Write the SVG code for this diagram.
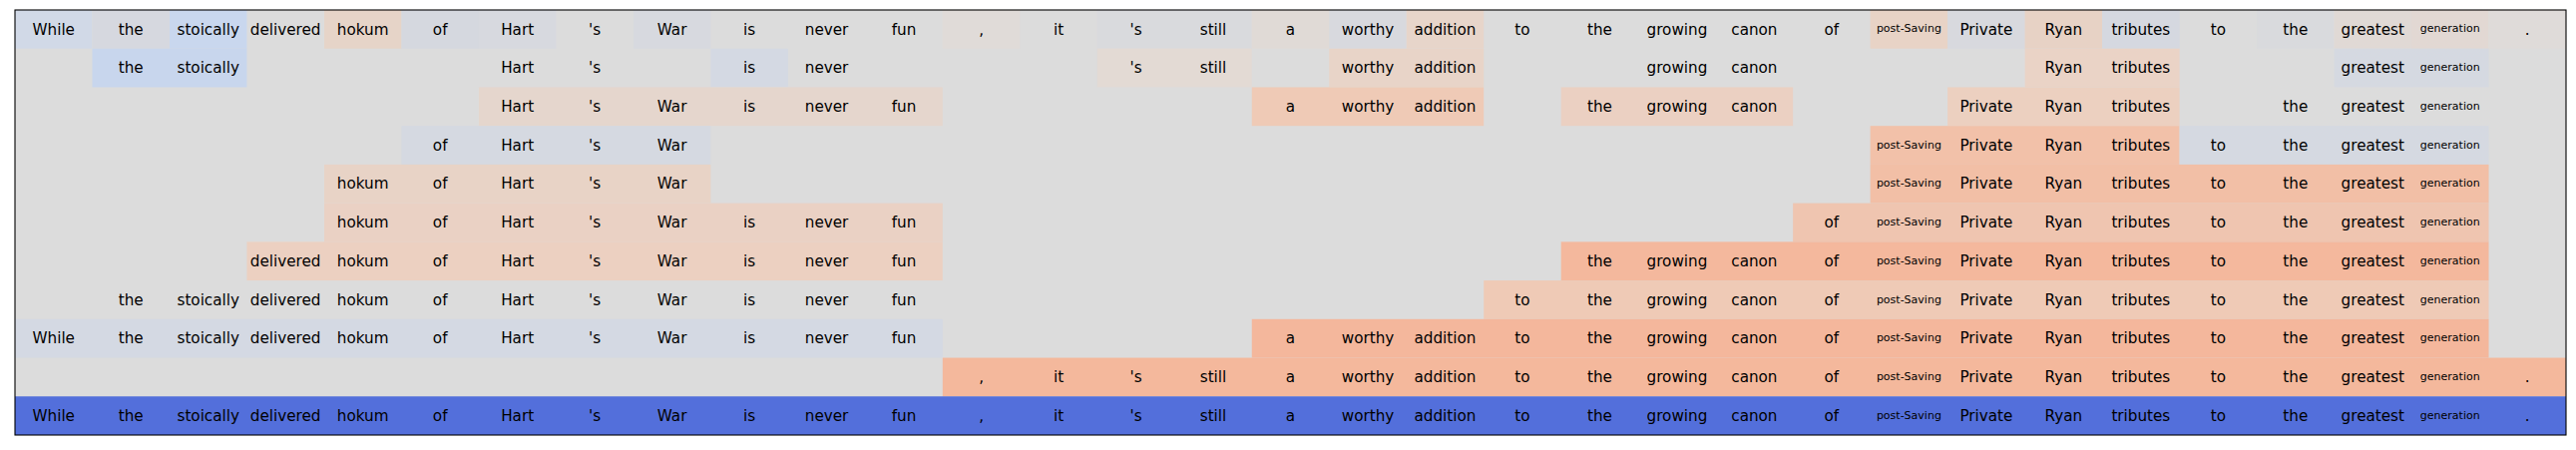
<svg xmlns="http://www.w3.org/2000/svg" width="2582" height="451" viewBox="0 0 2582 451">
<style>
text{font-family:"DejaVu Sans","Liberation Sans",sans-serif;font-size:15.2px;fill:#000;text-anchor:middle}
text.s{font-size:11px}
</style>
<rect x="0" y="0" width="2582" height="451" fill="#fff"/>
<g id="heatmap">
<rect x="15" y="10" width="2557" height="426" fill="#dcdcdc"/>
<!-- row 0 -->
<rect x="15" y="10" width="77.48" height="38.73" fill="#d1d9e7"/>
<rect x="92.48" y="10" width="77.49" height="38.73" fill="#d6d8df"/>
<rect x="169.97" y="10" width="77.48" height="38.73" fill="#c9d7ee"/>
<rect x="324.94" y="10" width="77.48" height="38.73" fill="#e6d4c8"/>
<rect x="402.42" y="10" width="77.49" height="38.73" fill="#d5d8df"/>
<rect x="479.91" y="10" width="77.48" height="38.73" fill="#d7d9df"/>
<rect x="634.88" y="10" width="77.48" height="38.73" fill="#d7d9df"/>
<rect x="944.82" y="10" width="77.48" height="38.73" fill="#e0dbd8"/>
<rect x="1099.79" y="10" width="154.97" height="38.73" fill="#d9dadd"/>
<rect x="1254.76" y="10" width="77.48" height="38.73" fill="#e0dad6"/>
<rect x="1332.24" y="10" width="77.49" height="38.73" fill="#d8d9de"/>
<rect x="1409.73" y="10" width="77.48" height="38.73" fill="#e7d5ca"/>
<rect x="1874.64" y="10" width="77.48" height="38.73" fill="#e8d3c6"/>
<rect x="1952.12" y="10" width="77.49" height="38.73" fill="#d8d9de"/>
<rect x="2029.61" y="10" width="77.48" height="38.73" fill="#e7d2c5"/>
<rect x="2107.09" y="10" width="77.49" height="38.73" fill="#d5d8e0"/>
<rect x="2262.06" y="10" width="77.49" height="38.73" fill="#d9dadd"/>
<rect x="2339.55" y="10" width="77.48" height="38.73" fill="#e0d9d5"/>
<rect x="2417.03" y="10" width="77.49" height="38.73" fill="#e2d8d3"/>
<rect x="2494.52" y="10" width="77.48" height="38.73" fill="#dfdbd9"/>
<!-- row 1 -->
<rect x="92.48" y="48.73" width="154.97" height="38.72" fill="#c8d6ed"/>
<rect x="712.36" y="48.73" width="77.49" height="38.72" fill="#d4d9e3"/>
<rect x="1099.79" y="48.73" width="154.97" height="38.72" fill="#e3dad4"/>
<rect x="1332.24" y="48.73" width="154.97" height="38.72" fill="#e8d4c8"/>
<rect x="2029.61" y="48.73" width="154.97" height="38.72" fill="#ead3c6"/>
<rect x="2339.55" y="48.73" width="154.97" height="38.72" fill="#d5d9e1"/>
<!-- row 2 -->
<rect x="479.91" y="87.45" width="464.91" height="38.73" fill="#e5d6cd"/>
<rect x="1254.76" y="87.45" width="232.45" height="38.73" fill="#efcab6"/>
<rect x="1564.70" y="87.45" width="232.45" height="38.73" fill="#ebd0c2"/>
<rect x="1952.12" y="87.45" width="232.46" height="38.73" fill="#ecd0c0"/>
<!-- row 3 -->
<rect x="402.42" y="126.18" width="309.94" height="38.73" fill="#d5d9e1"/>
<rect x="1874.64" y="126.18" width="309.94" height="38.73" fill="#f2c1a9"/>
<rect x="2184.58" y="126.18" width="309.94" height="38.73" fill="#d5d9e1"/>
<!-- row 4 -->
<rect x="324.94" y="164.91" width="387.42" height="38.73" fill="#e8d3c6"/>
<rect x="1874.64" y="164.91" width="619.88" height="38.73" fill="#f2bfa6"/>
<!-- row 5 -->
<rect x="324.94" y="203.64" width="619.88" height="38.72" fill="#ead1c4"/>
<rect x="1797.15" y="203.64" width="697.37" height="38.72" fill="#efc5b0"/>
<!-- row 6 -->
<rect x="247.45" y="242.36" width="697.37" height="38.73" fill="#ecd0c1"/>
<rect x="1564.70" y="242.36" width="929.82" height="38.73" fill="#f4b89d"/>
<!-- row 7 -->
<rect x="1487.21" y="281.09" width="1007.31" height="38.73" fill="#efcab6"/>
<!-- row 8 -->
<rect x="15" y="319.82" width="929.82" height="38.73" fill="#d4d9e3"/>
<rect x="1254.76" y="319.82" width="1239.76" height="38.73" fill="#f4b79c"/>
<!-- row 9 -->
<rect x="944.82" y="358.55" width="1627.18" height="38.72" fill="#f4b89c"/>
<!-- row 10 -->
<rect x="15" y="397.27" width="2557" height="38.73" fill="#536fdb"/>
</g>
<g id="labels">
<!-- row 0 -->
<text x="53.74" y="34.5">While</text><text x="131.23" y="34.5">the</text><text x="208.71" y="34.5">stoically</text><text x="286.20" y="34.5">delivered</text><text x="363.68" y="34.5">hokum</text><text x="441.17" y="34.5">of</text><text x="518.65" y="34.5">Hart</text><text x="596.14" y="34.5">'s</text><text x="673.62" y="34.5">War</text><text x="751.11" y="34.5">is</text><text x="828.59" y="34.5">never</text><text x="906.08" y="34.5">fun</text><text x="983.56" y="34.5">,</text><text x="1061.05" y="34.5">it</text><text x="1138.53" y="34.5">'s</text><text x="1216.02" y="34.5">still</text><text x="1293.50" y="34.5">a</text><text x="1370.99" y="34.5">worthy</text><text x="1448.47" y="34.5">addition</text><text x="1525.96" y="34.5">to</text><text x="1603.44" y="34.5">the</text><text x="1680.93" y="34.5">growing</text><text x="1758.41" y="34.5">canon</text><text x="1835.90" y="34.5">of</text><text class="s" x="1913.38" y="32.4">post-Saving</text><text x="1990.87" y="34.5">Private</text><text x="2068.35" y="34.5">Ryan</text><text x="2145.84" y="34.5">tributes</text><text x="2223.32" y="34.5">to</text><text x="2300.81" y="34.5">the</text><text x="2378.29" y="34.5">greatest</text><text class="s" x="2455.78" y="32.4">generation</text><text x="2533.26" y="34.5">.</text>
<!-- row 1 -->
<text x="131.23" y="73.2">the</text><text x="208.71" y="73.2">stoically</text><text x="518.65" y="73.2">Hart</text><text x="596.14" y="73.2">'s</text><text x="751.11" y="73.2">is</text><text x="828.59" y="73.2">never</text><text x="1138.53" y="73.2">'s</text><text x="1216.02" y="73.2">still</text><text x="1370.99" y="73.2">worthy</text><text x="1448.47" y="73.2">addition</text><text x="1680.93" y="73.2">growing</text><text x="1758.41" y="73.2">canon</text><text x="2068.35" y="73.2">Ryan</text><text x="2145.84" y="73.2">tributes</text><text x="2378.29" y="73.2">greatest</text><text class="s" x="2455.78" y="71.1">generation</text>
<!-- row 2 -->
<text x="518.65" y="111.9">Hart</text><text x="596.14" y="111.9">'s</text><text x="673.62" y="111.9">War</text><text x="751.11" y="111.9">is</text><text x="828.59" y="111.9">never</text><text x="906.08" y="111.9">fun</text><text x="1293.50" y="111.9">a</text><text x="1370.99" y="111.9">worthy</text><text x="1448.47" y="111.9">addition</text><text x="1603.44" y="111.9">the</text><text x="1680.93" y="111.9">growing</text><text x="1758.41" y="111.9">canon</text><text x="1990.87" y="111.9">Private</text><text x="2068.35" y="111.9">Ryan</text><text x="2145.84" y="111.9">tributes</text><text x="2300.81" y="111.9">the</text><text x="2378.29" y="111.9">greatest</text><text class="s" x="2455.78" y="109.8">generation</text>
<!-- row 3 -->
<text x="441.17" y="150.7">of</text><text x="518.65" y="150.7">Hart</text><text x="596.14" y="150.7">'s</text><text x="673.62" y="150.7">War</text><text class="s" x="1913.38" y="148.6">post-Saving</text><text x="1990.87" y="150.7">Private</text><text x="2068.35" y="150.7">Ryan</text><text x="2145.84" y="150.7">tributes</text><text x="2223.32" y="150.7">to</text><text x="2300.81" y="150.7">the</text><text x="2378.29" y="150.7">greatest</text><text class="s" x="2455.78" y="148.6">generation</text>
<!-- row 4 -->
<text x="363.68" y="189.4">hokum</text><text x="441.17" y="189.4">of</text><text x="518.65" y="189.4">Hart</text><text x="596.14" y="189.4">'s</text><text x="673.62" y="189.4">War</text><text class="s" x="1913.38" y="187.3">post-Saving</text><text x="1990.87" y="189.4">Private</text><text x="2068.35" y="189.4">Ryan</text><text x="2145.84" y="189.4">tributes</text><text x="2223.32" y="189.4">to</text><text x="2300.81" y="189.4">the</text><text x="2378.29" y="189.4">greatest</text><text class="s" x="2455.78" y="187.3">generation</text>
<!-- row 5 -->
<text x="363.68" y="228.1">hokum</text><text x="441.17" y="228.1">of</text><text x="518.65" y="228.1">Hart</text><text x="596.14" y="228.1">'s</text><text x="673.62" y="228.1">War</text><text x="751.11" y="228.1">is</text><text x="828.59" y="228.1">never</text><text x="906.08" y="228.1">fun</text><text x="1835.90" y="228.1">of</text><text class="s" x="1913.38" y="226.0">post-Saving</text><text x="1990.87" y="228.1">Private</text><text x="2068.35" y="228.1">Ryan</text><text x="2145.84" y="228.1">tributes</text><text x="2223.32" y="228.1">to</text><text x="2300.81" y="228.1">the</text><text x="2378.29" y="228.1">greatest</text><text class="s" x="2455.78" y="226.0">generation</text>
<!-- row 6 -->
<text x="286.20" y="266.8">delivered</text><text x="363.68" y="266.8">hokum</text><text x="441.17" y="266.8">of</text><text x="518.65" y="266.8">Hart</text><text x="596.14" y="266.8">'s</text><text x="673.62" y="266.8">War</text><text x="751.11" y="266.8">is</text><text x="828.59" y="266.8">never</text><text x="906.08" y="266.8">fun</text><text x="1603.44" y="266.8">the</text><text x="1680.93" y="266.8">growing</text><text x="1758.41" y="266.8">canon</text><text x="1835.90" y="266.8">of</text><text class="s" x="1913.38" y="264.7">post-Saving</text><text x="1990.87" y="266.8">Private</text><text x="2068.35" y="266.8">Ryan</text><text x="2145.84" y="266.8">tributes</text><text x="2223.32" y="266.8">to</text><text x="2300.81" y="266.8">the</text><text x="2378.29" y="266.8">greatest</text><text class="s" x="2455.78" y="264.7">generation</text>
<!-- row 7 -->
<text x="131.23" y="305.6">the</text><text x="208.71" y="305.6">stoically</text><text x="286.20" y="305.6">delivered</text><text x="363.68" y="305.6">hokum</text><text x="441.17" y="305.6">of</text><text x="518.65" y="305.6">Hart</text><text x="596.14" y="305.6">'s</text><text x="673.62" y="305.6">War</text><text x="751.11" y="305.6">is</text><text x="828.59" y="305.6">never</text><text x="906.08" y="305.6">fun</text><text x="1525.96" y="305.6">to</text><text x="1603.44" y="305.6">the</text><text x="1680.93" y="305.6">growing</text><text x="1758.41" y="305.6">canon</text><text x="1835.90" y="305.6">of</text><text class="s" x="1913.38" y="303.5">post-Saving</text><text x="1990.87" y="305.6">Private</text><text x="2068.35" y="305.6">Ryan</text><text x="2145.84" y="305.6">tributes</text><text x="2223.32" y="305.6">to</text><text x="2300.81" y="305.6">the</text><text x="2378.29" y="305.6">greatest</text><text class="s" x="2455.78" y="303.5">generation</text>
<!-- row 8 -->
<text x="53.74" y="344.3">While</text><text x="131.23" y="344.3">the</text><text x="208.71" y="344.3">stoically</text><text x="286.20" y="344.3">delivered</text><text x="363.68" y="344.3">hokum</text><text x="441.17" y="344.3">of</text><text x="518.65" y="344.3">Hart</text><text x="596.14" y="344.3">'s</text><text x="673.62" y="344.3">War</text><text x="751.11" y="344.3">is</text><text x="828.59" y="344.3">never</text><text x="906.08" y="344.3">fun</text><text x="1293.50" y="344.3">a</text><text x="1370.99" y="344.3">worthy</text><text x="1448.47" y="344.3">addition</text><text x="1525.96" y="344.3">to</text><text x="1603.44" y="344.3">the</text><text x="1680.93" y="344.3">growing</text><text x="1758.41" y="344.3">canon</text><text x="1835.90" y="344.3">of</text><text class="s" x="1913.38" y="342.2">post-Saving</text><text x="1990.87" y="344.3">Private</text><text x="2068.35" y="344.3">Ryan</text><text x="2145.84" y="344.3">tributes</text><text x="2223.32" y="344.3">to</text><text x="2300.81" y="344.3">the</text><text x="2378.29" y="344.3">greatest</text><text class="s" x="2455.78" y="342.2">generation</text>
<!-- row 9 -->
<text x="983.56" y="383.0">,</text><text x="1061.05" y="383.0">it</text><text x="1138.53" y="383.0">'s</text><text x="1216.02" y="383.0">still</text><text x="1293.50" y="383.0">a</text><text x="1370.99" y="383.0">worthy</text><text x="1448.47" y="383.0">addition</text><text x="1525.96" y="383.0">to</text><text x="1603.44" y="383.0">the</text><text x="1680.93" y="383.0">growing</text><text x="1758.41" y="383.0">canon</text><text x="1835.90" y="383.0">of</text><text class="s" x="1913.38" y="380.9">post-Saving</text><text x="1990.87" y="383.0">Private</text><text x="2068.35" y="383.0">Ryan</text><text x="2145.84" y="383.0">tributes</text><text x="2223.32" y="383.0">to</text><text x="2300.81" y="383.0">the</text><text x="2378.29" y="383.0">greatest</text><text class="s" x="2455.78" y="380.9">generation</text><text x="2533.26" y="383.0">.</text>
<!-- row 10 -->
<text x="53.74" y="421.7">While</text><text x="131.23" y="421.7">the</text><text x="208.71" y="421.7">stoically</text><text x="286.20" y="421.7">delivered</text><text x="363.68" y="421.7">hokum</text><text x="441.17" y="421.7">of</text><text x="518.65" y="421.7">Hart</text><text x="596.14" y="421.7">'s</text><text x="673.62" y="421.7">War</text><text x="751.11" y="421.7">is</text><text x="828.59" y="421.7">never</text><text x="906.08" y="421.7">fun</text><text x="983.56" y="421.7">,</text><text x="1061.05" y="421.7">it</text><text x="1138.53" y="421.7">'s</text><text x="1216.02" y="421.7">still</text><text x="1293.50" y="421.7">a</text><text x="1370.99" y="421.7">worthy</text><text x="1448.47" y="421.7">addition</text><text x="1525.96" y="421.7">to</text><text x="1603.44" y="421.7">the</text><text x="1680.93" y="421.7">growing</text><text x="1758.41" y="421.7">canon</text><text x="1835.90" y="421.7">of</text><text class="s" x="1913.38" y="419.6">post-Saving</text><text x="1990.87" y="421.7">Private</text><text x="2068.35" y="421.7">Ryan</text><text x="2145.84" y="421.7">tributes</text><text x="2223.32" y="421.7">to</text><text x="2300.81" y="421.7">the</text><text x="2378.29" y="421.7">greatest</text><text class="s" x="2455.78" y="419.6">generation</text><text x="2533.26" y="421.7">.</text>
</g>
<g id="frame"><rect x="15" y="10" width="2557" height="426" fill="none" stroke="#000" stroke-width="1.1"/></g>
</svg>
